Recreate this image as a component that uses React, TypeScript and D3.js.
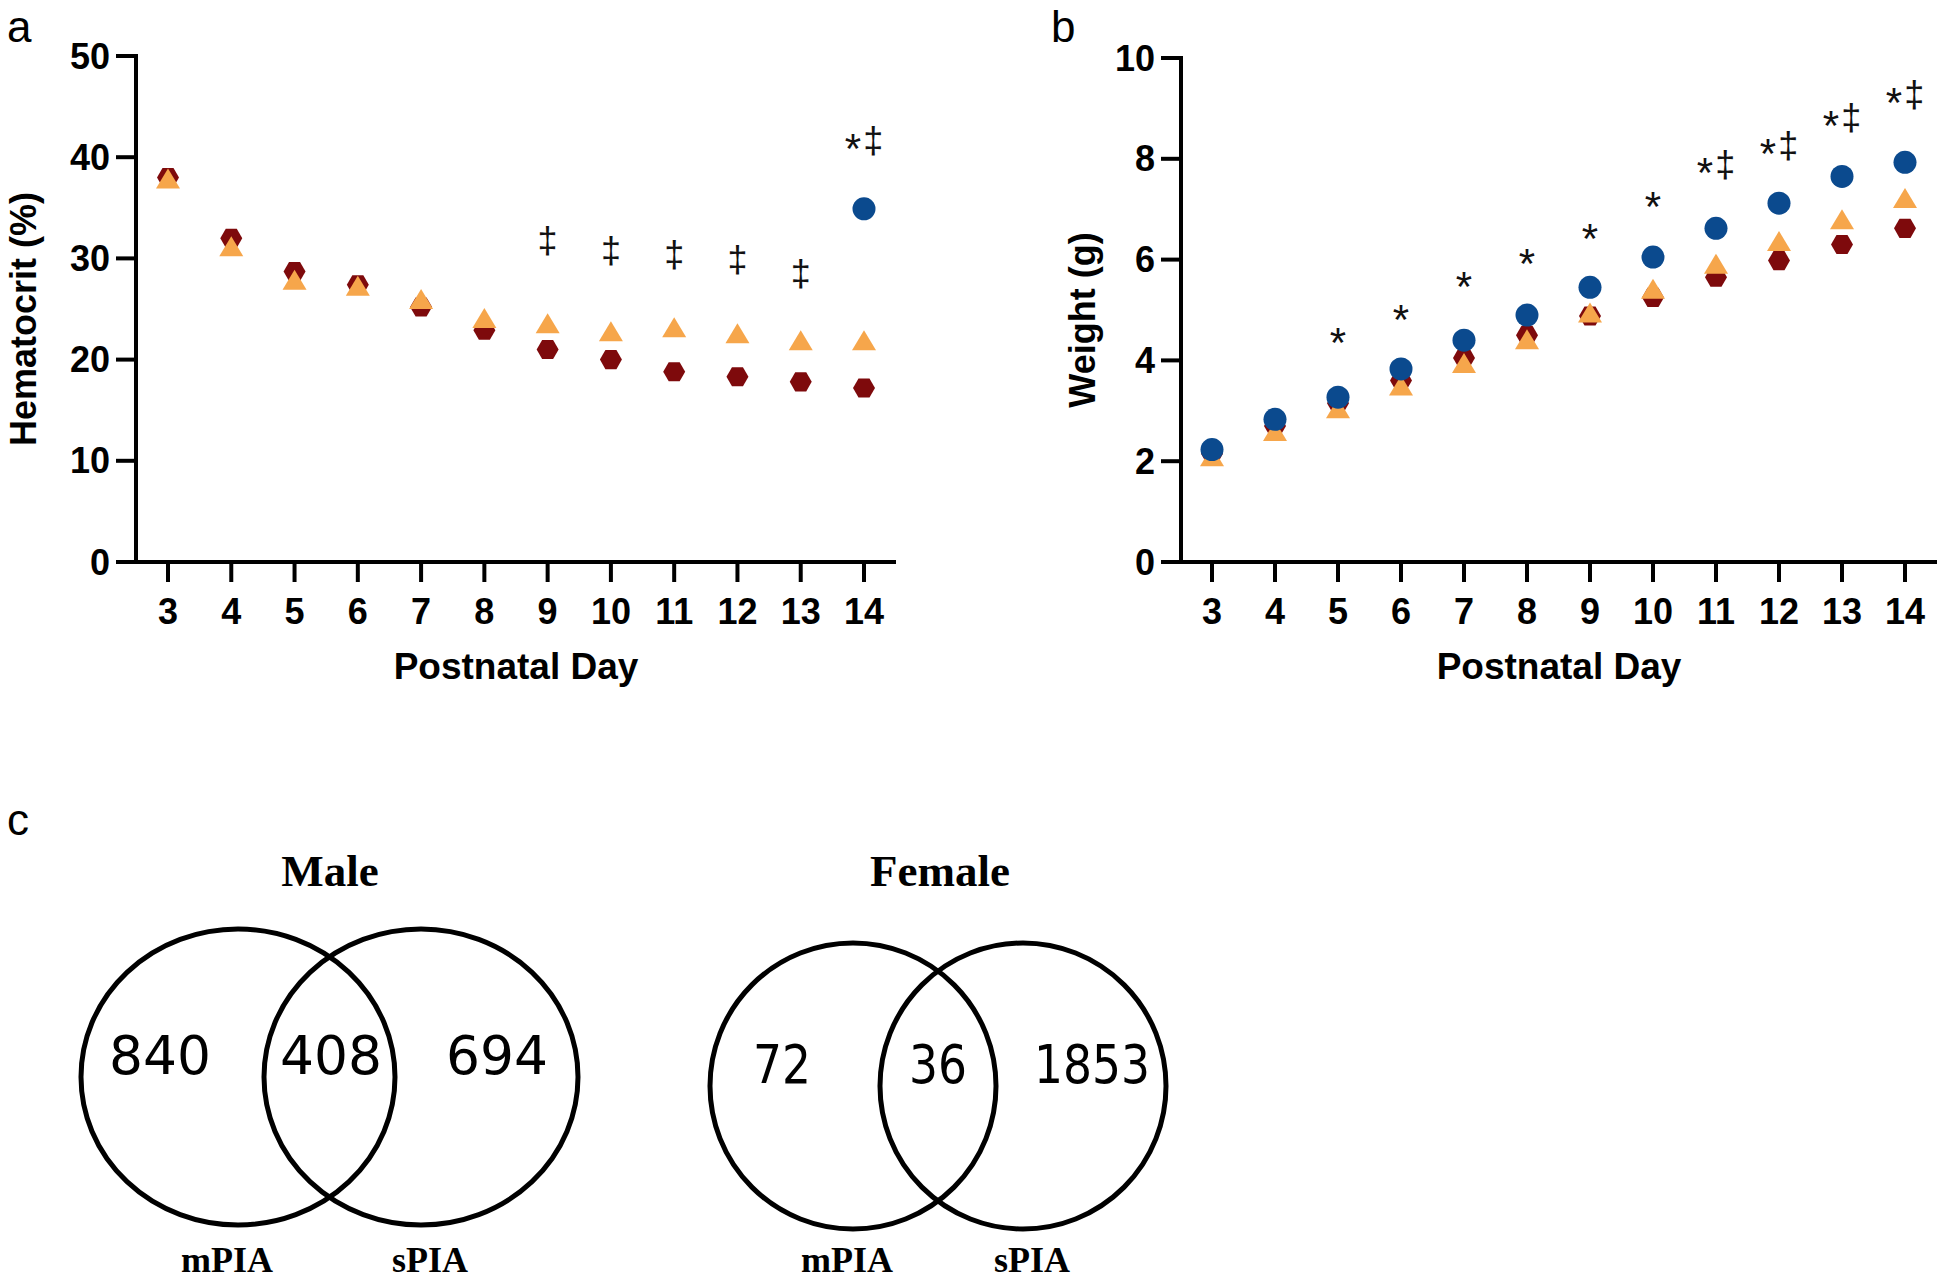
import React from "react";
import * as d3 from "d3";

// ---------- data ----------
const days = [3, 4, 5, 6, 7, 8, 9, 10, 11, 12, 13, 14];

const hctBlue: (number | null)[] = [null, null, null, null, null, null, null, null, null, null, null, 34.9];
const hctRed = [38, 32, 28.7, 27.4, 25.2, 22.9, 21.0, 20.0, 18.8, 18.3, 17.8, 17.2];
const hctOrange = [37.9, 31.2, 27.9, 27.3, 26.0, 24.1, 23.6, 22.8, 23.2, 22.6, 21.9, 21.9];
const hctMarks = ["", "", "", "", "", "", "‡", "‡", "‡", "‡", "‡", "*‡"];
const hctMarkY: (number | null)[] = [null, null, null, null, null, null, 31.6, 30.6, 30.2, 29.7, 28.4, 41.5];
const hctTicks = [0, 10, 20, 30, 40, 50];

const wtBlue = [2.23, 2.83, 3.27, 3.83, 4.4, 4.9, 5.45, 6.05, 6.62, 7.12, 7.65, 7.93];
const wtRed = [2.15, 2.7, 3.15, 3.6, 4.05, 4.5, 4.88, 5.25, 5.65, 5.98, 6.3, 6.62];
const wtOrange = [2.1, 2.6, 3.05, 3.5, 3.95, 4.42, 4.95, 5.42, 5.92, 6.37, 6.8, 7.22];
const wtMarks = ["", "", "*", "*", "*", "*", "*", "*", "*‡", "*‡", "*‡", "*‡"];
const wtMarkY: (number | null)[] = [null, null, 4.49, 4.95, 5.59, 6.05, 6.54, 7.18, 7.85, 8.23, 8.79, 9.25];
const wtTicks = [0, 2, 4, 6, 8, 10];

const vennGroups = ["Male", "Female"];
const vennLeftOnly = [840, 72];
const vennBoth = [408, 36];
const vennRightOnly = [694, 1853];
const vennSets = ["mPIA", "sPIA"];

// ---------- styles ----------
const BLUE = "#0b4a8e";
const RED = "#7e0a0c";
const ORANGE = "#f6a64b";
const SANS = "'Liberation Sans', Arial, Helvetica, sans-serif";
const SERIF = "'Liberation Serif', 'Times New Roman', Times, serif";
const DEJAVU = "'DejaVu Sans', Verdana, sans-serif";

const hexPath = (cx: number, cy: number, r: number) => {
  const pts: [number, number][] = d3.range(6).map((i) => {
    const a = (Math.PI / 3) * i;
    return [cx + r * Math.cos(a), cy + r * Math.sin(a)];
  });
  return (d3.line()(pts) || "") + "Z";
};
const triPath = (cx: number, cy: number, w: number, h: number) =>
  `M${cx},${cy - h / 2}L${cx + w / 2},${cy + h / 2}L${cx - w / 2},${cy + h / 2}Z`;

type PanelProps = {
  xRange: [number, number];
  yDomain: [number, number];
  yRange: [number, number];
  axisX: number;
  axisEnd: number;
  ticks: number[];
  blue: (number | null)[];
  red: (number | null)[];
  orange: (number | null)[];
  marks: string[];
  markY: (number | null)[];
  title: string;
  titleX: number;
};

// baseline offset (px below visual centre) for each mark glyph
const markOffset: Record<string, number> = { "*": 21, "‡": 11 };

function Panel(p: PanelProps) {
  const x = d3.scaleLinear().domain([3, 14]).range(p.xRange);
  const y = d3.scaleLinear().domain(p.yDomain).range(p.yRange);
  const y0 = y(p.yDomain[0]);
  const tickLen = 20;
  const sw = 4;
  const xMid = (p.axisX + p.axisEnd) / 2;
  return (
    <g>
      {/* y axis */}
      <line x1={p.axisX} x2={p.axisX} y1={y(p.yDomain[1]) - sw / 2} y2={y0} stroke="#000" strokeWidth={sw} />
      {p.ticks.map((t) => (
        <g key={"yt" + t}>
          <line x1={p.axisX - tickLen} x2={p.axisX} y1={y(t)} y2={y(t)} stroke="#000" strokeWidth={sw} />
          <text x={p.axisX - tickLen - 6} y={y(t) + 12.5} textAnchor="end" fontFamily={SANS} fontWeight="bold" fontSize={36}>
            {t}
          </text>
        </g>
      ))}
      {/* x axis */}
      <line x1={p.axisX - tickLen} x2={p.axisEnd} y1={y0} y2={y0} stroke="#000" strokeWidth={sw} />
      {days.map((d) => (
        <g key={"xt" + d}>
          <line x1={x(d)} x2={x(d)} y1={y0} y2={y0 + tickLen} stroke="#000" strokeWidth={sw} />
          <text x={x(d)} y={624} textAnchor="middle" fontFamily={SANS} fontWeight="bold" fontSize={36}>
            {d}
          </text>
        </g>
      ))}
      <text x={xMid} y={679} textAnchor="middle" fontFamily={SANS} fontWeight="bold" fontSize={37}>
        Postnatal Day
      </text>
      <text
        transform={`translate(${p.titleX},${(y(p.yDomain[1]) + y0) / 2 + 10}) rotate(-90)`}
        textAnchor="middle"
        fontFamily={SANS}
        fontWeight="bold"
        fontSize={36}
      >
        {p.title}
      </text>
      {/* markers: red, orange, blue */}
      {days.map((d, i) =>
        p.red[i] == null ? null : <path key={"r" + d} d={hexPath(x(d), y(p.red[i] as number), 11)} fill={RED} />
      )}
      {days.map((d, i) =>
        p.orange[i] == null ? null : (
          <path key={"o" + d} d={triPath(x(d), y(p.orange[i] as number), 24, 20)} fill={ORANGE} />
        )
      )}
      {days.map((d, i) =>
        p.blue[i] == null ? null : <circle key={"b" + d} cx={x(d)} cy={y(p.blue[i] as number)} r={11.5} fill={BLUE} />
      )}
      {/* significance marks */}
      {days.map((d, i) => {
        const m = p.marks[i];
        const my = p.markY[i];
        if (!m || my == null) return null;
        const chars = m.split("");
        let prev = 0;
        return (
          <text key={"m" + d} x={x(d)} y={y(my)} textAnchor="middle" fontFamily={SANS} fill="#111">
            {chars.map((ch, k) => {
              const off = markOffset[ch] ?? 11;
              const dy = off - prev;
              prev = off;
              return (
                <tspan key={k} dy={dy} dx={k > 0 ? 2 : 0} fontSize={ch === "*" ? 42 : 36}>
                  {ch}
                </tspan>
              );
            })}
          </text>
        );
      })}
    </g>
  );
}

type VennProps = {
  idx: number;
  cxL: number;
  cxR: number;
  cy: number;
  rx: number;
  ry: number;
  titleX: number;
  numY: number;
  numX: [number, number, number];
  digitW: number;
  setX: [number, number];
};

function Venn(v: VennProps) {
  const nums = [vennLeftOnly[v.idx], vennBoth[v.idx], vennRightOnly[v.idx]];
  return (
    <g>
      <text x={v.titleX} y={886} textAnchor="middle" fontFamily={SERIF} fontWeight="bold" fontSize={45}>
        {vennGroups[v.idx]}
      </text>
      <ellipse cx={v.cxL} cy={v.cy} rx={v.rx} ry={v.ry} fill="none" stroke="#000" strokeWidth={5} />
      <ellipse cx={v.cxR} cy={v.cy} rx={v.rx} ry={v.ry} fill="none" stroke="#000" strokeWidth={5} />
      {nums.map((n, k) => (
        <text
          key={k}
          x={v.numX[k]}
          y={v.numY}
          textAnchor="middle"
          fontFamily={DEJAVU}
          fontSize={54}
          textLength={String(n).length * v.digitW}
          lengthAdjust="spacingAndGlyphs"
        >
          {n}
        </text>
      ))}
      {vennSets.map((s, k) => (
        <text key={s} x={v.setX[k]} y={1272} textAnchor="middle" fontFamily={SERIF} fontWeight="bold" fontSize={36}>
          {s}
        </text>
      ))}
    </g>
  );
}

export default function App() {
  return (
    <svg
      width={1946}
      height={1281}
      viewBox="0 0 1946 1281"
      style={{ position: "absolute", left: 0, top: 0, background: "#fff" }}
    >
      <rect width={1946} height={1281} fill="#fff" />
      <text x={7} y={42} fontFamily={SANS} fontSize={44}>a</text>
      <text x={1051} y={42} fontFamily={SANS} fontSize={44}>b</text>
      <text x={7} y={835} fontFamily={SANS} fontSize={44}>c</text>

      <Panel
        xRange={[168, 864]}
        yDomain={[0, 50]}
        yRange={[562, 56]}
        axisX={136}
        axisEnd={896}
        ticks={hctTicks}
        blue={hctBlue}
        red={hctRed}
        orange={hctOrange}
        marks={hctMarks}
        markY={hctMarkY}
        title="Hematocrit (%)"
        titleX={36}
      />
      <Panel
        xRange={[1212, 1905]}
        yDomain={[0, 10]}
        yRange={[562, 58]}
        axisX={1181}
        axisEnd={1937}
        ticks={wtTicks}
        blue={wtBlue}
        red={wtRed}
        orange={wtOrange}
        marks={wtMarks}
        markY={wtMarkY}
        title="Weight (g)"
        titleX={1095}
      />

      <Venn
        idx={0}
        cxL={238}
        cxR={421}
        cy={1077}
        rx={157}
        ry={148}
        titleX={330}
        numY={1074}
        numX={[160, 331, 497]}
        digitW={34}
        setX={[227, 430]}
      />
      <Venn
        idx={1}
        cxL={853}
        cxR={1023}
        cy={1086}
        rx={143}
        ry={143}
        titleX={940}
        numY={1083}
        numX={[782, 938, 1092]}
        digitW={29}
        setX={[847, 1032]}
      />
    </svg>
  );
}
